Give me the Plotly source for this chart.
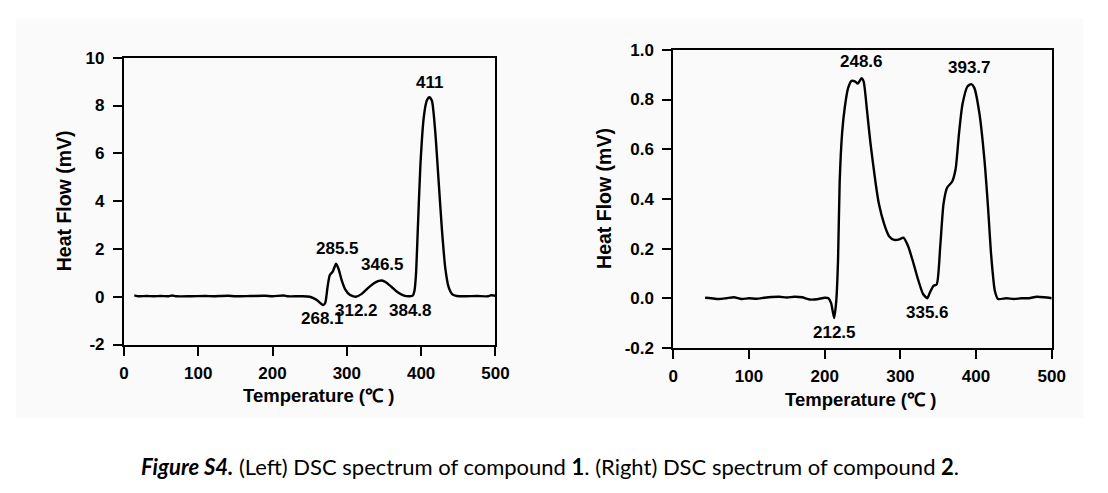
import plotly.graph_objects as go

# ---------------- data ----------------
# Compound 1 (left panel)
temp1 = [14, 20, 30, 40, 50, 60, 65, 70, 90, 110, 120, 140, 150, 170, 190, 200, 215, 220,
         240, 250, 255, 260, 265, 268.1, 271, 274, 277, 281, 285.5, 289, 293, 298, 304,
         312.2, 320, 328, 336, 343, 347, 352, 360, 368, 376, 384.8, 389, 391, 393, 395.5,
         399, 403.5, 407.5, 411, 414.5, 419, 423.5, 428, 432.5, 437, 442, 448, 460, 475,
         490, 494, 498, 500]
flow1 = [0.06, 0.02, 0.03, 0.02, 0.03, 0.02, 0.05, 0.02, 0.02, 0.03, 0.02, 0.04, 0.02, 0.03,
         0.04, 0.02, 0.05, 0.02, 0.02, 0.0, -0.06, -0.15, -0.28, -0.35, -0.25, 0.4, 0.9,
         1.05, 1.38, 1.15, 0.7, 0.3, 0.08, 0.0, 0.12, 0.35, 0.55, 0.66, 0.68, 0.62, 0.42,
         0.2, 0.06, 0.02, 0.06, 0.25, 0.9, 2.8, 5.5, 7.5, 8.2, 8.35, 8.2, 6.9, 4.85, 2.8,
         1.2, 0.4, 0.1, 0.03, 0.02, 0.03, 0.02, 0.06, 0.05, 0.04]

# Compound 2 (right panel)
temp2 = [42, 50, 60, 70, 80, 90, 100, 110, 120, 130, 140, 150, 160, 170, 180, 190, 200, 205,
         208.5, 212.5, 215.3, 217.6, 219.8, 223, 226.6, 231, 235.6, 240, 243.7, 248.6,
         251.4, 255.9, 260.4, 267, 271.6, 278.4, 285, 292, 298.6, 304, 310, 316.7, 323.4,
         330, 335.6, 339, 343.7, 348, 352.7, 357, 361.7, 368.5, 373, 377.5, 382, 388.7,
         393.7, 397.7, 404.5, 411, 415.8, 420, 424.8, 429, 440, 450, 460, 470, 480, 490, 500]
flow2 = [0.002, 0.0, -0.003, 0.0, 0.004, -0.003, 0.0, -0.002, 0.002, 0.005, 0.006, 0.003,
         0.006, 0.004, -0.005, -0.004, 0.002, 0.0, -0.02, -0.08, -0.01, 0.15, 0.47, 0.665,
         0.77, 0.847, 0.875, 0.873, 0.864, 0.886, 0.873, 0.756, 0.626, 0.47, 0.38, 0.30,
         0.25, 0.235, 0.237, 0.244, 0.211, 0.147, 0.075, 0.017, 0.0, 0.023, 0.05, 0.056,
         0.21, 0.38, 0.445, 0.47, 0.52, 0.665, 0.78, 0.853, 0.862, 0.847, 0.743, 0.56,
         0.367, 0.172, 0.03, -0.003, 0.0, -0.003, 0.0, 0.0, 0.006, 0.004, 0.0]

x_ticks = [0, 100, 200, 300, 400, 500]
y1_ticks = [-2, 0, 2, 4, 6, 8, 10]
y1_labels = ["-2", "0", "2", "4", "6", "8", "10"]
y2_ticks = [-0.2, 0.0, 0.2, 0.4, 0.6, 0.8, 1.0]
y2_labels = ["-0.2", "0.0", "0.2", "0.4", "0.6", "0.8", "1.0"]

# peak labels (text, placement in data coordinates)
labels1 = ["411", "285.5", "346.5", "268.1", "312.2", "384.8"]
labels1_x = [411.4, 287.7, 347.6, 267.6, 312.8, 385.6]
labels1_y = [8.98, 2.01, 1.34, -0.90, -0.59, -0.59]
labels2 = ["248.6", "393.7", "212.5", "335.6"]
labels2_x = [248.2, 391.9, 213.0, 335.6]
labels2_y = [0.952, 0.929, -0.136, -0.058]

x_title = "Temperature (\u2103 )"
y_title = "Heat Flow (mV)"
caption = ("<b><i>Figure S4.</i></b> (Left) DSC spectrum of compound <b>1</b>. "
           "(Right) DSC spectrum of compound <b>2</b>.")

# ---------------- figure ----------------
W, H = 1108, 493
def px(x):
    return x / W
def py(y):
    return 1 - y / H

BOLD = "Liberation Sans, Arial, sans-serif"
TICKSIZE = 17
fig = go.Figure()

fig.add_trace(go.Scatter(x=temp1, y=flow1, mode="lines", xaxis="x", yaxis="y",
                         line=dict(color="black", width=2.4, shape="spline", smoothing=0.6),
                         showlegend=False, hoverinfo="skip"))
fig.add_trace(go.Scatter(x=temp2, y=flow2, mode="lines", xaxis="x2", yaxis="y2",
                         line=dict(color="black", width=2.4, shape="spline", smoothing=0.6),
                         showlegend=False, hoverinfo="skip"))

axis_common = dict(showline=True, linecolor="black", linewidth=2, mirror=True,
                   ticks="outside", ticklen=9, tickwidth=2, tickcolor="black",
                   showgrid=False, zeroline=False,
                   tickfont=dict(family=BOLD, size=TICKSIZE, color="black", weight="bold"))

fig.update_layout(
    width=W, height=H, margin=dict(l=0, r=0, t=0, b=0), autosize=False,
    paper_bgcolor="white", plot_bgcolor="rgba(0,0,0,0)",
    xaxis=dict(domain=[px(121), px(499)], range=[0, 500], tickvals=x_ticks,
               anchor="y", ticklabelstandoff=3, **axis_common),
    yaxis=dict(domain=[py(349), py(50.7)], range=[-2, 10], tickvals=y1_ticks,
               ticktext=y1_labels, anchor="x", ticklabelstandoff=5, **axis_common),
    xaxis2=dict(domain=[px(680), px(1065)], range=[0, 500], tickvals=x_ticks,
                anchor="y2", ticklabelstandoff=3, **axis_common),
    yaxis2=dict(domain=[py(352.5), py(42.5)], range=[-0.2, 1.0], tickvals=y2_ticks,
                ticktext=y2_labels, anchor="x2", ticklabelstandoff=5, **axis_common),
    shapes=[dict(type="rect", xref="paper", yref="paper", layer="below",
                 x0=px(11), x1=px(1097), y0=py(425), y1=py(10),
                 fillcolor="#fafafa", line=dict(width=0))],
)

def ann(x, y, text, size, xref="paper", yref="paper", angle=0, family=BOLD, weight="bold"):
    return dict(x=x, y=y, xref=xref, yref=yref, text=text, showarrow=False,
                xanchor="center", yanchor="middle", textangle=angle,
                font=dict(family=family, size=size, color="black", weight=weight))

anns = []
for t, x, y in zip(labels1, labels1_x, labels1_y):
    anns.append(ann(x, y, t, TICKSIZE, "x", "y"))
for t, x, y in zip(labels2, labels2_x, labels2_y):
    anns.append(ann(x, y, t, TICKSIZE, "x2", "y2"))

# axis titles
anns.append(ann(px(60), py(199), y_title, 19.5, angle=-90))
anns.append(ann(px(610), py(197), y_title, 19.5, angle=-90))
anns.append(ann(px(319), py(402), x_title, 18.5))
anns.append(ann(px(870), py(406), x_title, 18.5))
# caption
anns.append(ann(0.5, py(476), caption, 22, family="Lato, Open Sans, sans-serif",
                weight="normal"))

fig.update_layout(annotations=anns)

fig.write_html("out.html", config={"displayModeBar": False},
               post_script="document.body.style.margin='0px';")
